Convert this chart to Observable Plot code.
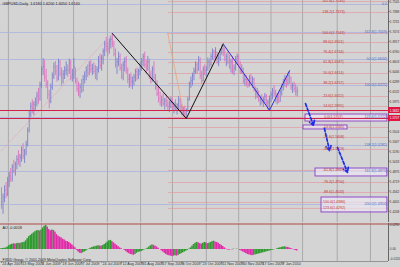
<!DOCTYPE html>
<html><head><meta charset="utf-8">
<script src="https://cdn.jsdelivr.net/npm/d3@7"></script>
<script src="https://cdn.jsdelivr.net/npm/@observablehq/plot@0.6"></script>
<style>
html,body{margin:0;padding:0;background:#d4d4d4;}
#chart{width:400px;height:267px;overflow:hidden;position:relative;}
#chart svg{display:block;}
</style></head><body><div id="chart"></div>
<script>
// ---- price data (GBPUSD daily, bar index 0 = 24 Apr 2009) ----
const highs = [
1.462,1.452,1.465,1.470,1.478,1.486,1.492,1.498,1.505,1.502,
1.512,1.520,1.514,1.526,1.531,1.522,1.535,1.556,1.582,1.595,
1.600,1.597,1.603,1.612,1.618,1.628,1.652,1.665,1.662,1.648,
1.630,1.615,1.625,1.642,1.658,1.660,1.654,1.664,1.662,1.650,
1.646,1.652,1.660,1.655,1.664,1.662,1.648,1.665,1.650,1.634,
1.628,1.625,1.632,1.638,1.644,1.652,1.655,1.660,1.662,1.656,
1.658,1.654,1.652,1.668,1.672,1.670,1.680,1.692,1.698,1.690,
1.696,1.700,1.7043,1.692,1.680,1.665,1.675,1.672,1.656,1.660,
1.666,1.668,1.650,1.640,1.642,1.636,1.640,1.648,1.650,1.648,
1.658,1.665,1.672,1.675,1.662,1.668,1.664,1.645,1.652,1.660,
1.640,1.630,1.620,1.612,1.606,1.610,1.602,1.608,1.600,1.598,
1.604,1.602,1.596,1.600,1.594,1.605,1.602,1.592,1.588,1.590,
1.586,1.604,1.628,1.636,1.642,1.650,1.660,1.658,1.668,1.666,
1.645,1.652,1.655,1.652,1.666,1.664,1.672,1.680,1.678,1.682,
1.674,1.670,1.680,1.686,1.6877,1.682,1.672,1.676,1.670,1.664,
1.668,1.655,1.668,1.672,1.670,1.660,1.655,1.650,1.640,1.638,
1.632,1.638,1.640,1.636,1.634,1.620,1.618,1.614,1.606,1.608,
1.604,1.610,1.608,1.600,1.606,1.612,1.618,1.622,1.615,1.610,
1.612,1.615,1.624,1.632,1.638,1.636,1.642,1.6457,1.636,1.626,
1.628,1.624,1.620];
const lows = [
1.428,1.420,1.438,1.445,1.448,1.462,1.470,1.471,1.484,1.480,
1.490,1.497,1.494,1.502,1.506,1.500,1.512,1.526,1.548,1.572,
1.578,1.575,1.582,1.589,1.593,1.598,1.618,1.638,1.628,1.618,
1.600,1.586,1.594,1.615,1.632,1.638,1.628,1.630,1.636,1.622,
1.625,1.632,1.638,1.635,1.640,1.630,1.628,1.632,1.625,1.612,
1.605,1.602,1.610,1.612,1.625,1.630,1.635,1.638,1.642,1.638,
1.640,1.632,1.630,1.642,1.648,1.645,1.655,1.668,1.675,1.668,
1.672,1.680,1.682,1.668,1.650,1.640,1.652,1.645,1.632,1.630,
1.644,1.640,1.625,1.618,1.620,1.616,1.622,1.628,1.630,1.632,
1.638,1.645,1.652,1.650,1.640,1.645,1.632,1.625,1.628,1.630,
1.615,1.605,1.595,1.590,1.588,1.590,1.584,1.588,1.582,1.580,
1.586,1.584,1.578,1.582,1.576,1.585,1.580,1.575,1.573,1.572,
1.5707,1.580,1.598,1.618,1.622,1.630,1.640,1.640,1.645,1.632,
1.625,1.628,1.638,1.636,1.645,1.648,1.652,1.662,1.660,1.662,
1.656,1.652,1.660,1.670,1.668,1.660,1.652,1.655,1.648,1.642,
1.640,1.638,1.645,1.655,1.650,1.640,1.640,1.625,1.622,1.620,
1.618,1.620,1.622,1.618,1.612,1.600,1.602,1.596,1.590,1.592,
1.588,1.594,1.590,1.584,1.5836,1.596,1.600,1.604,1.595,1.592,
1.594,1.596,1.606,1.614,1.620,1.618,1.622,1.624,1.615,1.610,
1.612,1.606,1.605];
const closes = [
1.440,1.447,1.458,1.452,1.472,1.480,1.476,1.494,1.489,1.498,
1.506,1.503,1.510,1.521,1.512,1.518,1.530,1.552,1.578,1.590,
1.586,1.593,1.597,1.606,1.600,1.624,1.648,1.652,1.636,1.625,
1.608,1.598,1.620,1.638,1.652,1.645,1.634,1.660,1.641,1.635,
1.640,1.646,1.648,1.646,1.658,1.636,1.640,1.652,1.630,1.618,
1.612,1.620,1.615,1.632,1.638,1.646,1.642,1.654,1.648,1.650,
1.645,1.640,1.648,1.660,1.654,1.665,1.676,1.688,1.684,1.680,
1.692,1.695,1.688,1.672,1.655,1.660,1.668,1.650,1.636,1.655,
1.660,1.646,1.632,1.634,1.628,1.630,1.636,1.644,1.640,1.645,
1.652,1.660,1.668,1.655,1.652,1.660,1.638,1.632,1.648,1.635,
1.620,1.610,1.602,1.596,1.600,1.594,1.598,1.592,1.590,1.594,
1.596,1.588,1.590,1.586,1.592,1.600,1.584,1.580,1.582,1.578,
1.584,1.600,1.625,1.630,1.638,1.645,1.655,1.648,1.662,1.638,
1.630,1.648,1.646,1.648,1.660,1.656,1.668,1.676,1.668,1.675,
1.660,1.666,1.677,1.680,1.675,1.664,1.668,1.660,1.652,1.660,
1.645,1.650,1.664,1.668,1.655,1.645,1.648,1.630,1.632,1.628,
1.624,1.634,1.628,1.632,1.616,1.610,1.612,1.600,1.602,1.598,
1.600,1.606,1.594,1.596,1.602,1.608,1.614,1.610,1.600,1.604,
1.598,1.612,1.620,1.628,1.632,1.630,1.638,1.634,1.620,1.622,
1.618,1.612,1.614];
const firstOpen = 1.452;

// Awesome Oscillator values, one per bar
const aoValues = [
0.0010,0.0012,0.0015,0.0018,0.0030,0.0045,0.0055,0.0062,0.0068,0.0065,
0.0070,0.0075,0.0072,0.0078,0.0082,0.0088,0.0105,0.0130,0.0155,0.0170,
0.0185,0.0200,0.0215,0.0225,0.0230,0.0222,0.0235,0.0260,0.0280,0.0290,
0.0270,0.0240,0.0225,0.0235,0.0230,0.0210,0.0180,0.0160,0.0150,0.0140,
0.0125,0.0115,0.0100,0.0095,0.0085,0.0070,0.0055,0.0040,0.0020,-0.0010,
-0.0030,-0.0045,-0.0050,-0.0040,-0.0030,-0.0020,-0.0005,0.0005,0.0015,0.0025,
0.0030,0.0035,0.0040,0.0045,0.0042,0.0040,0.0048,0.0060,0.0075,0.0090,
0.0105,0.0110,0.0095,0.0080,0.0065,0.0050,0.0035,0.0020,0.0010,0.0000,
-0.0010,-0.0025,-0.0040,-0.0050,-0.0060,-0.0065,-0.0070,-0.0060,-0.0045,-0.0035,
-0.0030,-0.0025,-0.0015,-0.0005,0.0005,0.0015,0.0030,0.0045,0.0055,0.0050,
0.0040,0.0030,0.0015,0.0000,-0.0015,-0.0030,-0.0045,-0.0060,-0.0070,-0.0075,
-0.0080,-0.0085,-0.0080,-0.0075,-0.0080,-0.0070,-0.0060,-0.0050,-0.0040,-0.0030,
-0.0020,-0.0010,0.0005,0.0020,0.0040,0.0060,0.0075,0.0085,0.0080,0.0070,
0.0065,0.0075,0.0085,0.0080,0.0070,0.0075,0.0085,0.0095,0.0100,0.0090,
0.0085,0.0075,0.0060,0.0050,0.0035,0.0020,0.0005,-0.0005,-0.0010,0.0000,
-0.0005,0.0005,0.0000,0.0005,0.0000,-0.0010,-0.0020,-0.0030,-0.0040,-0.0050,
-0.0060,-0.0065,-0.0070,-0.0075,-0.0070,-0.0065,-0.0060,-0.0055,-0.0050,-0.0045,
-0.0040,-0.0035,-0.0030,-0.0025,-0.0020,-0.0015,-0.0010,-0.0005,0.0000,0.0008,
0.0015,0.0020,0.0025,0.0030,0.0032,0.0028,0.0025,0.0020,0.0012,0.0005,
-0.0005,-0.0012,-0.0018];

// time axis labels (bar index -> label)
const dateIdx = [0,13,26,39,52,65,78,91,104,117,130,143,156,169,182];
const dateLabels = ["24 Apr 2009","13 May 2009","1 Jun 2009","18 Jun 2009","7 Jul 2009","24 Jul 2009","12 Aug 2009","31 Aug 2009","17 Sep 2009","6 Oct 2009","23 Oct 2009","11 Nov 2009","30 Nov 2009","17 Dec 2009","7 Jan 2010"];
const gridIdx = [4.5,26,46.8,68.8,90.3,111,133,154,175,195.5,218,239.6];

// price axis
const priceTicks = [1.7545,1.7388,1.7231,1.7074,1.6917,1.6760,1.6603,1.6446,1.6289,1.6132,1.5975,1.5818,1.5661,1.5504,1.5347,1.5190,1.5033,1.4876,1.4719,1.4562,1.4405,1.4248];
const supportLevels = [1.5832, 1.5707];

// Fibonacci levels (red) and labels
const fibLevels = [1.7546,1.7373,1.7043,1.6901,1.6744,1.6587,1.6414,1.6257,1.6052,1.5895,1.5722,1.5565,1.5408,1.5219,1.4889,1.4700,1.4543,1.4386,1.4292];
const fibLabels = ["161.8(1.7546)","138.2(1.7373)","100.0(1.7043)","88.6(1.6901)","76.4(1.6744)","61.8(1.6587)","50.0(1.6414)","38.2(1.6257)","23.6(1.6052)","14.6(1.5895)","0.0(1.5707)","-14.6(1.5565)","-23.6(1.5408)","-38.2(1.5219)","-61.8(1.4889)","-76.4(1.4700)","-88.6(1.4543)","-100.0(1.4386)","-123.6(1.4292)"];
const fibStartIdx = 108;
// second Fibonacci (blue labels, lavender lines)
const blueFibLevels = [1.7499,1.7059,1.6634,1.6225,1.5722,1.5282,1.4873,1.4354];
const blueFibLabels = ["0.0","161.8(1.7059)","50.0(1.6634)","100.0(1.6225)","123.6(1.5722)","138.2(1.5282)","161.8(1.4873)","200.0(1.4354)"];

// zigzags
const zzBlackIdx = [72,120,144], zzBlackPrice = [1.7043,1.5707,1.6877];
const zzBlueIdx = [144,174,187], zzBluePrice = [1.6877,1.5836,1.6457];
const fibBaseIdx = [108,119], fibBasePrice = [1.7043,1.5707];
const trendIdx = [0,72], trendPrice = [1.5203,1.7043];

// target boxes [idx1, idx2, priceTop, priceBottom]
const boxIdx1 = [197.4,196.1,203.9,207.8];
const boxIdx2 = [250.6,224.7,250.6,250.6];
const boxTop = [1.5769,1.5597,1.4920,1.4464];
const boxBottom = [1.5659,1.5534,1.4795,1.4229];

// projected path arrows
const arrIdx1 = [197.4,209.7,218.2], arrIdx2 = [202.6,213,224.7];
const arrP1 = [1.5942,1.5550,1.5251], arrP2 = [1.5597,1.5203,1.4858];

const header = "GBPUSD,Daily  1.6180 1.6200 1.6050 1.6140";
const aoLabel = "AO -0.0018";
const copyright = "FXDD Group, \u00a9 2001-2009 MetaQuotes Software Corp.";
const aoTicks = [0.0290, 0, -0.0120];

// ---- build ----
const X0 = -0.65, XR = 251.3;             // bar-index domain
const PX = (XR - X0) / 388;               // index units per pixel
const YMIN = 1.4071, YMAX = 1.7562;
const PP = (YMAX - YMIN) / 222;           // price per pixel
const UP = "#7d7fc8", DOWN = "#dc72c0";
const FONT = "Liberation Sans, Arial, sans-serif";

const bars = closes.map((c, i) => ({i, h: highs[i], l: lows[i], c, o: i ? closes[i-1] : firstOpen}));
const upBars = bars.filter(d => d.c >= d.o), downBars = bars.filter(d => d.c < d.o);
const ao = aoValues.map((v, i) => ({i, v, up: i === 0 || v >= aoValues[i-1]}));
const boxes = boxIdx1.map((x1, k) => ({x1, x2: boxIdx2[k], t: boxTop[k], b: boxBottom[k]}));
const arrows = arrIdx1.map((x1, k) => ({x1, x2: arrIdx2[k], y1: arrP1[k], y2: arrP2[k]}));
const pts = (xs, ys) => xs.map((x, k) => ({x, y: ys[k]}));
// tick labels hidden behind the highlighted support-level labels are not drawn
const visibleTicks = priceTicks.filter(t => supportLevels.every(s => Math.abs(t - s) > 4 * PP));

const main = Plot.plot({
  width: 400, height: 223,
  marginTop: 0, marginRight: 12, marginBottom: 1, marginLeft: 0,
  x: {domain: [X0, XR], axis: null},
  y: {domain: [YMIN, YMAX], axis: null},
  style: {background: "#d4d4d4", fontFamily: FONT, fontSize: "4px", overflow: "visible"},
  marks: [
    Plot.ruleX(gridIdx, {stroke: "#a0a0a0", strokeWidth: 0.8}),
    Plot.ruleY(blueFibLevels, {x1: X0, x2: XR, stroke: "#a9b2de", strokeWidth: 0.8}),
    Plot.link(fibLevels, {x1: fibStartIdx, x2: XR, y1: d => d, y2: d => d, stroke: "#e29aa0", strokeWidth: 0.7}),
    Plot.line(pts(trendIdx, trendPrice), {x: "x", y: "y", stroke: "#e6a8b8", strokeWidth: 0.8, strokeDasharray: "1,1.2"}),
    Plot.line(pts(fibBaseIdx, fibBasePrice), {x: "x", y: "y", stroke: "#e6a070", strokeWidth: 0.9, strokeDasharray: "1,1.2"}),
    Plot.rect(boxes, {x1: "x1", x2: "x2", y1: "t", y2: "b", fill: "#eee9f7", fillOpacity: 0.6, stroke: "#8a3cc8", strokeWidth: 0.9}),
    Plot.ruleX(upBars, {x: "i", y1: "l", y2: "h", stroke: UP, strokeWidth: 0.9}),
    Plot.ruleX(downBars, {x: "i", y1: "l", y2: "h", stroke: DOWN, strokeWidth: 0.9}),
    Plot.link(upBars, {x1: "i", x2: d => d.i + 0.6, y1: "c", y2: "c", stroke: UP, strokeWidth: 0.8}),
    Plot.link(downBars, {x1: "i", x2: d => d.i + 0.6, y1: "c", y2: "c", stroke: DOWN, strokeWidth: 0.8}),
    Plot.ruleY(supportLevels, {x1: X0, x2: XR, stroke: "#d21f48", strokeWidth: 1.1}),
    Plot.line(pts(zzBlackIdx, zzBlackPrice), {x: "x", y: "y", stroke: "#111111", strokeWidth: 1}),
    Plot.line(pts(zzBlueIdx, zzBluePrice), {x: "x", y: "y", stroke: "#2f2fd6", strokeWidth: 1}),
    Plot.arrow(arrows, {x1: "x1", y1: "y1", x2: "x2", y2: "y2", stroke: "#1b2ee6", strokeWidth: 1.7, strokeDasharray: "3,2", headLength: 4.5}),
    Plot.text(fibLevels, {x: 215.6, y: d => d, text: (d, i) => fibLabels[i], fill: "#c23636", fontSize: 3.6, lineAnchor: "bottom", dy: 0.4}),
    Plot.text(blueFibLevels, {x: XR, y: d => d, text: (d, i) => blueFibLabels[i], fill: "#4f6fc8", fontSize: 3.6, textAnchor: "end", lineAnchor: "bottom", dx: -1.5, dy: 0.4}),
    Plot.ruleX([XR], {stroke: "#5a5a5a", strokeWidth: 0.9}),
    Plot.link(priceTicks, {x1: XR, x2: XR + 1.2 * PX, y1: d => d, y2: d => d, stroke: "#5a5a5a", strokeWidth: 0.8}),
    Plot.text(visibleTicks, {x: XR, y: d => d, text: d => d.toFixed(4), textAnchor: "start", dx: 1.3, dy: 0.9, fill: "#333", fontSize: 3.1}),
    Plot.rect(supportLevels, {x1: XR, x2: XR + 12 * PX, y1: d => d - 3 * PP, y2: d => d + 3 * PP, fill: "#e0143f"}),
    Plot.text(supportLevels, {x: XR, y: d => d, text: d => d.toFixed(4), textAnchor: "start", dx: 1.3, fill: "#fff", fontSize: 3.1}),
    Plot.text([header], {frameAnchor: "top-left", dx: 2, dy: 2, textAnchor: "start", lineAnchor: "top", fill: "#222", fontSize: 3.8})
  ]
});

const AOMIN = -0.0145, AOMAX = 0.0314;
const sub = Plot.plot({
  width: 400, height: 44,
  marginTop: 0, marginRight: 12, marginBottom: 6, marginLeft: 0,
  x: {domain: [X0, XR], axis: null},
  y: {domain: [AOMIN, AOMAX], axis: null},
  style: {background: "#d4d4d4", fontFamily: FONT, fontSize: "4px", overflow: "visible"},
  marks: [
    Plot.ruleX(gridIdx, {stroke: "#a0a0a0", strokeWidth: 0.8}),
    Plot.rect(ao.filter(d => d.up), {x1: d => d.i - 0.5, x2: d => d.i + 0.5, y1: 0, y2: "v", fill: "#2e9a2e", inset: 0}),
    Plot.rect(ao.filter(d => !d.up), {x1: d => d.i - 0.5, x2: d => d.i + 0.5, y1: 0, y2: "v", fill: "#e02aa8", inset: 0}),
    Plot.ruleY([AOMAX], {x1: X0, x2: XR + 12 * PX, stroke: "#b04848", strokeWidth: 1, dy: 0.5}),
    Plot.ruleY([AOMIN], {x1: X0, x2: XR, stroke: "#858585", strokeWidth: 0.8}),
    Plot.ruleX([XR], {stroke: "#5a5a5a", strokeWidth: 0.9}),
    Plot.text(aoTicks, {x: XR, y: d => d, text: d => d === 0 ? "0.00" : d.toFixed(4), textAnchor: "start", dx: 1.3, fill: "#333", fontSize: 3.1}),
    Plot.link(dateIdx, {x1: d => d, x2: d => d, y1: AOMIN, y2: AOMIN - 1.5 * (AOMAX - AOMIN) / 38, stroke: "#6a6a6a", strokeWidth: 0.7}),
    Plot.text(dateIdx, {x: d => d, y: AOMIN, text: (d, i) => dateLabels[i], textAnchor: "start", lineAnchor: "top", dx: 0.8, dy: 1.3, fill: "#333", fontSize: 3.7}),
    Plot.text([aoLabel], {frameAnchor: "top-left", dx: 2, dy: 2.5, textAnchor: "start", lineAnchor: "top", fill: "#222", fontSize: 3.8}),
    Plot.text([copyright], {frameAnchor: "bottom-left", dx: 2, dy: -1, textAnchor: "start", lineAnchor: "bottom", fill: "#222", fontSize: 3.6})
  ]
});

const el = document.getElementById("chart");
el.append(main, sub);
</script>
</body></html>
